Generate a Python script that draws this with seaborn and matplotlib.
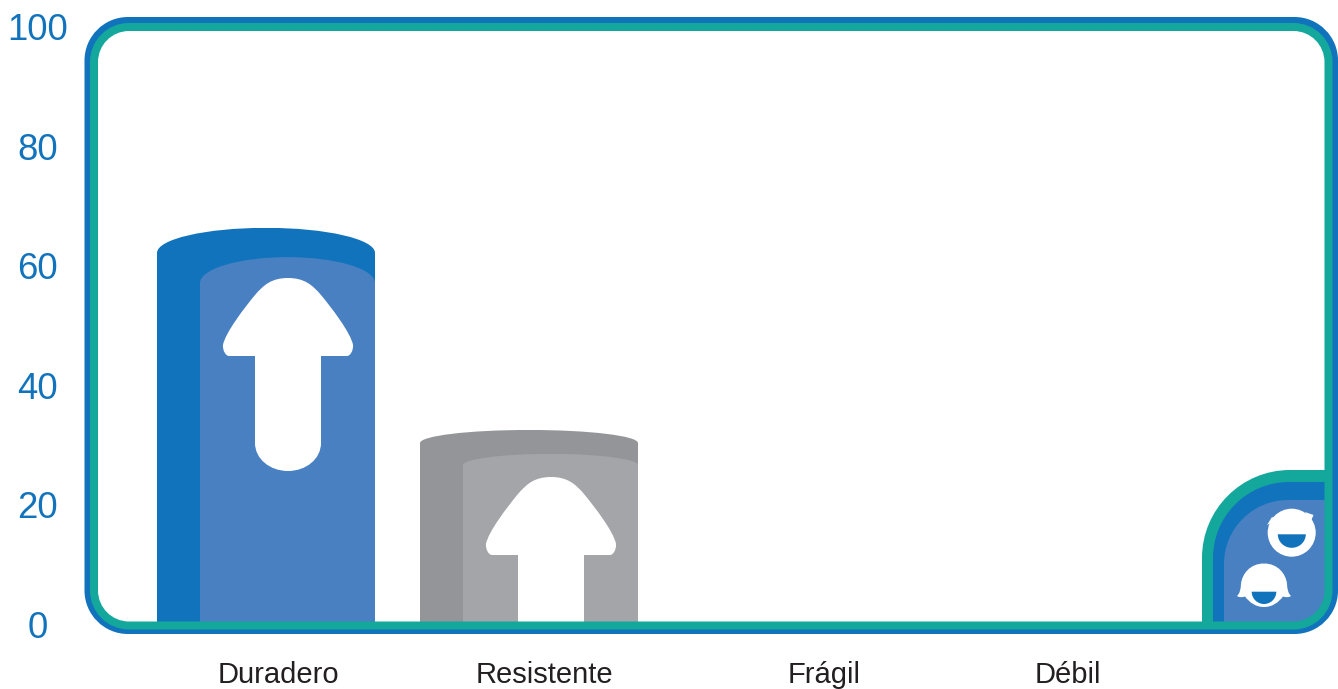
import matplotlib
matplotlib.use("Agg")
import matplotlib.pyplot as plt
import seaborn as sns
from matplotlib.path import Path
from matplotlib.patches import PathPatch, Circle
from matplotlib.transforms import Affine2D, ScaledTranslation

# ---- data
categories = ["Duradero", "Resistente", "Frágil", "Débil"]
outer_values = [66.5, 32.7, 0, 0]
inner_values = [61.6, 28.7, 0, 0]
y_ticks = [0, 20, 40, 60, 80, 100]

# ---- styles
BLUE = "#1173BC"
LIGHT_BLUE = "#4880C2"
GRAY = "#939598"
LIGHT_GRAY = "#A3A5A8"
TEAL = "#14A89C"
TEXT = "#231F20"
outer_colors = [BLUE, GRAY, BLUE, GRAY]
inner_colors = [LIGHT_BLUE, LIGHT_GRAY, LIGHT_BLUE, LIGHT_GRAY]
outer_dome = [4.2, 2.2, 0, 0]
inner_dome = [4.35, 1.9, 0, 0]

W, H = 1338, 689
sns.set_theme(style="white")
plt.rcParams["font.family"] = ["Liberation Sans", "DejaVu Sans"]

fig = plt.figure(figsize=(W / 100, H / 100), dpi=100, facecolor="white")
L, R, T, B = 94, 1328.5, 27.5, 625.5
ax = fig.add_axes([L / W, 1 - B / H, (R - L) / W, (B - T) / H])
ax.patch.set_visible(False)

STEP = 263.0
X0 = 266.0
M, C, Li, Z = Path.MOVETO, Path.CURVE4, Path.LINETO, Path.CLOSEPOLY
K = 0.5523


def x_from_px(px_x):
    return (px_x - X0) / STEP


def dome_bars(container, domes):
    """Give each bar of a container a rounded (elliptic) top."""
    for bar, dome in zip(container, domes):
        h = bar.get_height()
        if h <= 0:
            continue
        x, w = bar.get_x(), bar.get_width()
        s = h - dome
        verts = [(x, 0), (x, s),
                 (x, s + K * dome), (x + w / 2 - K * w / 2, h), (x + w / 2, h),
                 (x + w / 2 + K * w / 2, h), (x + w, s + K * dome), (x + w, s),
                 (x + w, 0), (x, 0)]
        codes = [M, Li, C, C, C, C, C, C, Li, Z]
        bar.set_clip_path(PathPatch(Path(verts, codes), transform=ax.transData))


sns.barplot(x=categories, y=outer_values, hue=categories, palette=outer_colors,
            width=218 / STEP, legend=False, saturation=1, ax=ax, linewidth=0)
n_first = len(ax.patches)
sns.barplot(x=categories, y=inner_values, hue=categories, palette=inner_colors,
            width=175 / STEP, legend=False, saturation=1, ax=ax, linewidth=0)
outer_bars = ax.patches[:n_first]
inner_bars = ax.patches[n_first:]
for bar in inner_bars:
    bar.set_x(bar.get_x() + 21.5 / STEP)
dome_bars(outer_bars, outer_dome)
dome_bars(inner_bars, inner_dome)

ax.set_xlim(x_from_px(L), x_from_px(R))
ax.set_ylim(0, 100)
ax.set_yticks(y_ticks)
ax.set_yticklabels([str(v) for v in y_ticks], color=BLUE, fontsize=26.3, ha="center")
ax.set_xticks([x_from_px(p) for p in (278, 544, 824, 1068)])
ax.set_xticklabels(categories, color=TEXT, fontsize=21)
ax.tick_params(axis="y", length=0, pad=40.5)
ax.tick_params(axis="x", length=0, pad=25.5)
ax.set_xlabel("")
ax.set_ylabel("")
sns.despine(ax=ax, left=True, bottom=True)
for lab in ax.get_yticklabels():
    lab.set_transform(lab.get_transform() + ScaledTranslation(0, 1.0 / 100, fig.dpi_scale_trans))

# ---- decoration, positioned in picture pixels
px = Affine2D().scale(1 / W, -1 / H).translate(0, 1) + fig.transFigure


def deco(verts, codes, color):
    p = PathPatch(Path(verts, codes), facecolor=color, edgecolor="none", lw=0, transform=px)
    fig.add_artist(p)
    return p


def mirrored(cx, right):
    """Closed outline from a right-hand half given as ((x, y), code) steps."""
    pts = [r[0] for r in right]
    cds = [r[1] for r in right]
    verts = [(cx + p[0], p[1]) for p in pts]
    codes = list(cds)
    for i in range(len(pts) - 2, -1, -1):
        verts.append((cx - pts[i][0], pts[i][1]))
        codes.append(cds[i + 1])
    verts.append((cx + pts[0][0], pts[0][1]))
    codes.append(Z)
    return verts, codes


def arrow(cx, top, bottom, rounded):
    h = bottom - top
    right = [((0, 0), M),
             ((16, 0), C), ((24, 6.5), C), ((33, 17), C),
             ((43, 29), C), ((63, 55), C), ((65, 67), C),
             ((65.5, 73), C), ((62, 78), C), ((59, 78), C),
             ((33, 78), Li)]
    if rounded:
        right += [((33, h - 28), Li), ((33, h - 12), C), ((18, h), C), ((0, h), C)]
    else:
        right += [((33, h), Li), ((0, h), Li)]
    right = [((p[0], p[1] + top), c) for p, c in right]
    v, c = mirrored(cx, right)
    deco(v, c, "white")


arrow(288, 278, 471, True)
arrow(551, 477, 625, False)


def round_rect_path(x0, y0, x1, y1, r):
    q = r * (1 - K)
    verts = [(x0 + r, y0), (x1 - r, y0), (x1 - q, y0), (x1, y0 + q), (x1, y0 + r),
             (x1, y1 - r), (x1, y1 - q), (x1 - q, y1), (x1 - r, y1),
             (x0 + r, y1), (x0 + q, y1), (x0, y1 - q), (x0, y1 - r),
             (x0, y0 + r), (x0, y0 + q), (x0 + q, y0), (x0 + r, y0), (x0 + r, y0)]
    codes = [M, Li, C, C, C, Li, C, C, C, Li, C, C, C, Li, C, C, C, Z]
    return Path(verts, codes)


def badge(x0, y0, r, color, clip):
    xr, yb = 1328, 626
    verts = [(x0, yb), (x0, y0 + r), (x0, y0 + r - K * r), (x0 + r - K * r, y0), (x0 + r, y0),
             (xr, y0), (xr, yb), (x0, yb)]
    codes = [M, Li, C, C, C, Li, Li, Z]
    p = deco(verts, codes, color)
    p.set_clip_path(clip)


clip_shape = PathPatch(round_rect_path(94, 27, 1328.5, 625.5, 35), transform=px)
badge(1202, 470, 88, TEAL, clip_shape)
badge(1213, 482, 76, BLUE, clip_shape)
badge(1224, 500, 64, LIGHT_BLUE, clip_shape)


def half_disc(cx, cy, rx, ry, color):
    verts = [(cx - rx, cy), (cx - rx, cy + K * ry), (cx - K * rx, cy + ry), (cx, cy + ry),
             (cx + K * rx, cy + ry), (cx + rx, cy + K * ry), (cx + rx, cy), (cx - rx, cy)]
    codes = [M, C, C, C, C, C, C, Z]
    deco(verts, codes, color)


# male head
fig.add_artist(Circle((1291.7, 532.7), 24, facecolor="white", edgecolor="none", transform=px))
deco([(1267, 525), (1272, 517), (1277, 520), (1267, 525)], [M, Li, Li, Z], "white")
deco([(1313.5, 515), (1305, 512), (1311, 521), (1313.5, 515)], [M, Li, Li, Z], "white")
half_disc(1291.8, 534.3, 14, 13.5, BLUE)

# female head
v, c = mirrored(1264, [((0, 563.5), M), ((14, 563.5), C), ((22, 574), C), ((23, 584), C),
                       ((23.5, 590), C), ((24, 593), C), ((27, 596), C),
                       ((25, 597.5), C), ((22, 597.5), C), ((19, 596.5), C),
                       ((14, 603), C), ((8, 607), C), ((0, 607), C)])
deco(v, c, "white")
half_disc(1264, 591.7, 12.3, 12.3, BLUE)

# frame
for path_args, color, lw_px in [((88, 20.5, 1334.5, 630.5, 40), BLUE, 7),
                                ((94, 27, 1328.5, 625.5, 35), TEAL, 8)]:
    fig.add_artist(PathPatch(round_rect_path(*path_args), facecolor="none", edgecolor=color,
                             lw=lw_px * 0.72, transform=px))

fig.savefig("out.png", dpi=100, facecolor="white")
